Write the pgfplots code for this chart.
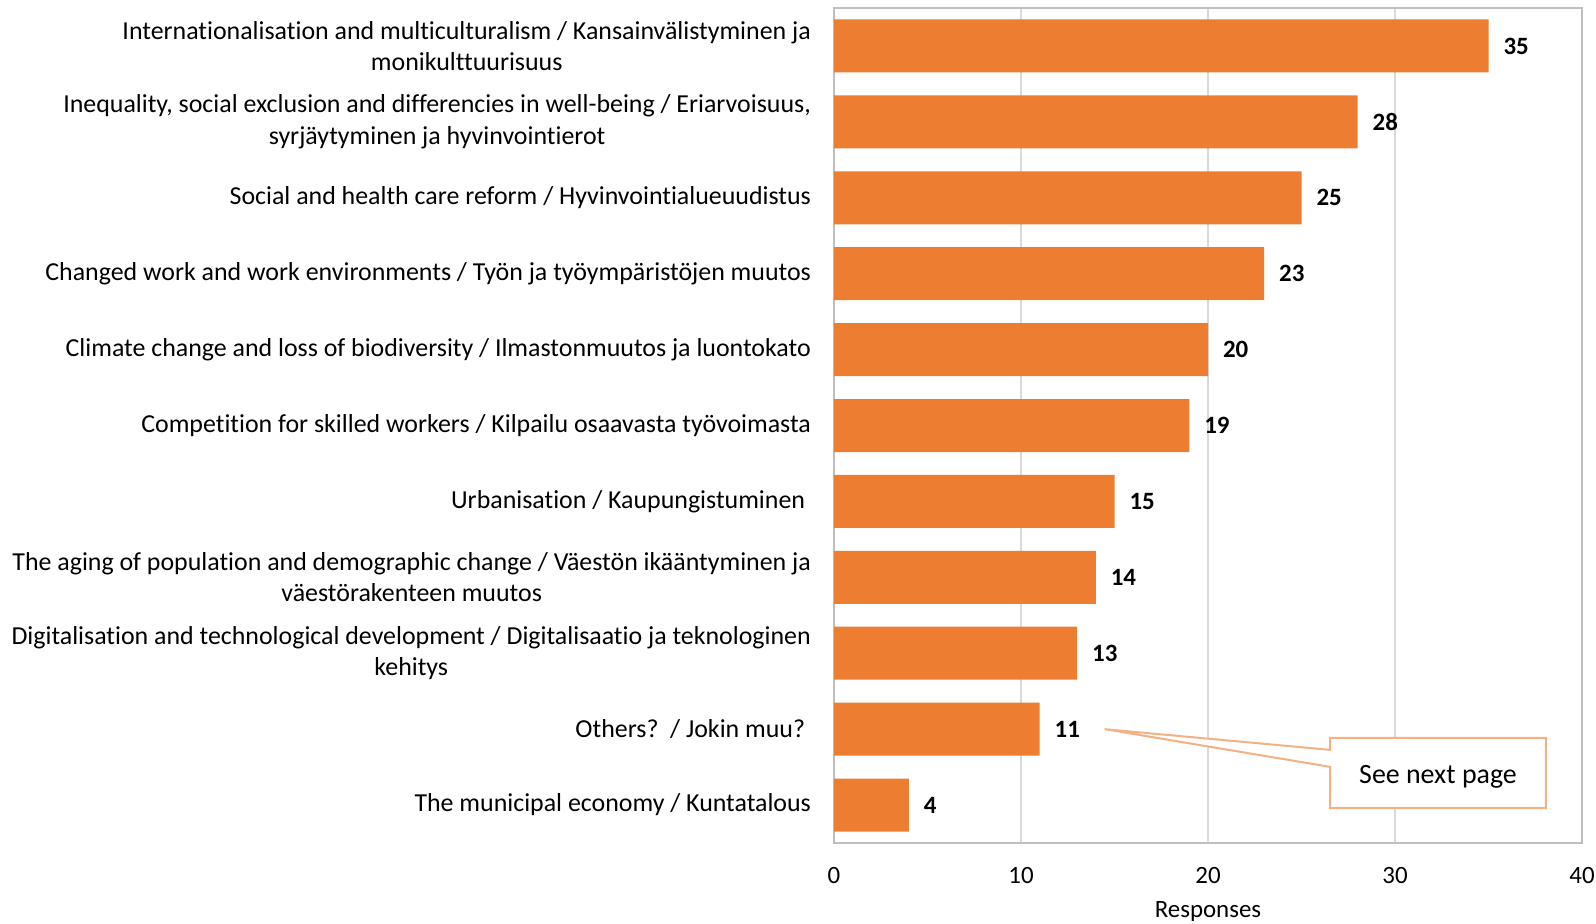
\documentclass[border=0pt]{standalone}
\usepackage{pgfplots}
\pgfplotsset{compat=1.18}
\usepackage{fontspec}
\setmainfont{Carlito}[Ligatures=NoCommon]
\definecolor{barorange}{HTML}{ED7D31}
\definecolor{callout}{HTML}{F4B183}
\definecolor{gridgray}{HTML}{D9D9D9}
\definecolor{boxgray}{HTML}{BFBFBF}
\begin{document}
\begin{tikzpicture}
\begin{axis}[
  name=ax,
  scale only axis,
  width=374bp, height=417.5bp,
  xbar, bar width=26.5bp,
  xmin=0, xmax=40,
  ymin=-0.5, ymax=10.5,
  xtick={0,10,20,30,40},
  ytick={0,...,10},
  yticklabels={
    {The municipal economy / Kuntatalous},
    {Others?\ \ / Jokin muu?\ },
    {Digitalisation and technological development / Digitalisaatio ja teknologinen\\kehitys},
    {The aging of population and demographic change / Väestön ikääntyminen ja\\väestörakenteen muutos},
    {Urbanisation / Kaupungistuminen\ },
    {Competition for skilled workers / Kilpailu osaavasta työvoimasta},
    {Climate change and loss of biodiversity / Ilmastonmuutos ja luontokato},
    {Changed work and work environments / Työn ja työympäristöjen muutos},
    {Social and health care reform / Hyvinvointialueuudistus},
    {Inequality, social exclusion and differencies in well-being / Eriarvoisuus,\\syrjäytyminen ja hyvinvointierot},
    {Internationalisation and multiculturalism / Kansainvälistyminen ja\\monikulttuurisuus}
  },
  yticklabel style={align=center, font=\fontsize{13}{15.75}\selectfont, xshift=-8bp},
  xticklabel style={font=\fontsize{12.5}{15}\selectfont, yshift=-8.5bp},
  /pgf/number format/assume math mode=true,
  major tick length=0pt,
  xmajorgrids, grid style={gridgray, line width=0.8bp},
  axis line style={boxgray, line width=1bp},
  xlabel={Responses},
  xlabel style={font=\fontsize{12.5}{15}\selectfont, yshift=-2bp},
  nodes near coords,
  nodes near coords style={font=\bfseries\fontsize{12.5}{15}\selectfont, anchor=west, xshift=4bp},
]
\addplot[fill=barorange, draw=none] coordinates {
  (4,0) (11,1) (13,2) (14,3) (15,4) (19,5) (20,6) (23,7) (25,8) (28,9) (35,10)
};
\fill[white, draw=callout, line width=1bp] (axis cs:14.47,1.0) -- (axis cs:26.53,0.727) -- (axis cs:26.53,0.885) -- (axis cs:38.07,0.885) -- (axis cs:38.07,-0.04) -- (axis cs:26.53,-0.04) -- (axis cs:26.53,0.503) -- cycle;
\node[font=\fontsize{14}{16}\selectfont] at (axis cs:32.3,0.37) {See next page};
\end{axis}
\pgfresetboundingbox
\path[use as bounding box] ([xshift=-417bp,yshift=-40bp]ax.south west) rectangle ([xshift=7bp,yshift=4bp]ax.north east);
\end{tikzpicture}
\end{document}
